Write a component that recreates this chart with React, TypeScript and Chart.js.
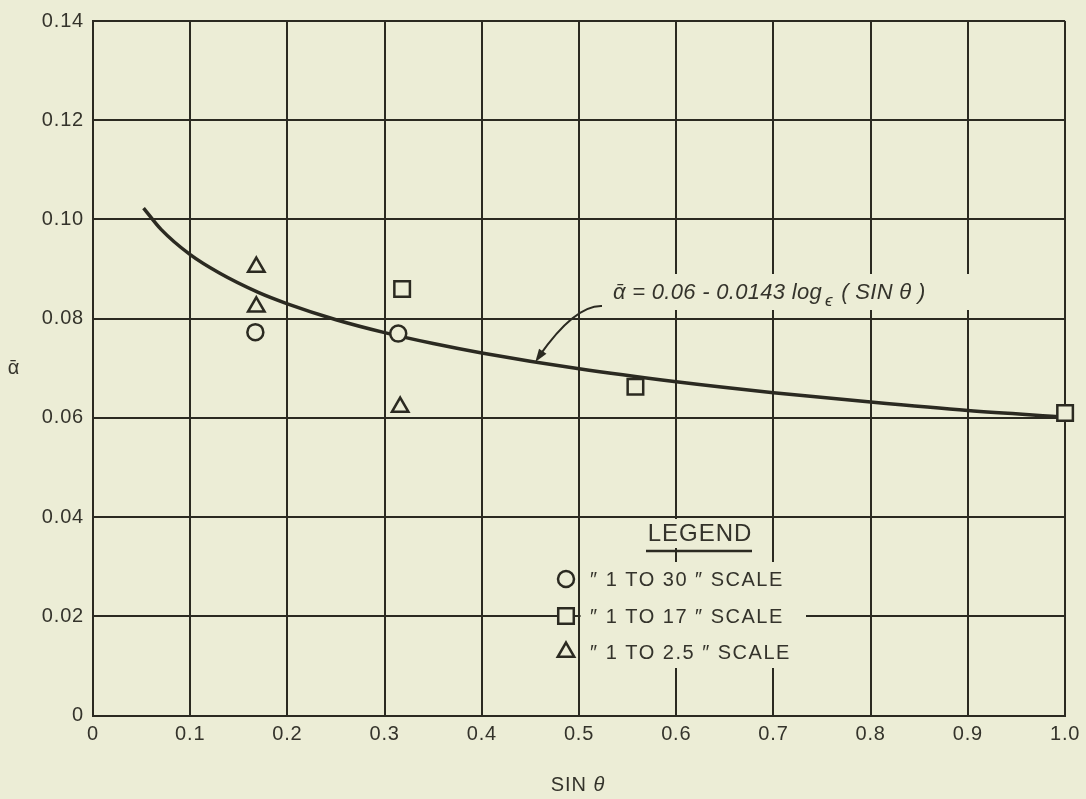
import React, { useEffect, useRef } from 'react';
import { Chart, registerables } from 'chart.js';

Chart.register(...registerables);

const BG = '#ecedd6';
const INK = '#2b2a21';
const TEXT = '#34332b';
const FONT = "'Liberation Sans', 'DejaVu Sans', Arial, sans-serif";

// Fitted curve  ᾱ = 0.06 - 0.0143 ln(sin θ)
const curveX = [0.052, 0.07, 0.1, 0.13, 0.17, 0.2, 0.25, 0.3, 0.35, 0.4, 0.5, 0.6, 0.7, 0.8, 0.9, 1.0];
const curveY = [0.1023, 0.098, 0.0929, 0.0892, 0.0853, 0.083, 0.0798, 0.0772, 0.075, 0.0731, 0.0699, 0.0673, 0.0651, 0.0632, 0.0615, 0.0602];

// "1 TO 30" scale (circles)
const circleX = [0.167, 0.314];
const circleY = [0.0773, 0.077];
// "1 TO 17" scale (squares)
const squareX = [0.318, 0.558, 1.0];
const squareY = [0.086, 0.0663, 0.061];
// "1 TO 2.5" scale (triangles)
const triangleX = [0.168, 0.168, 0.316];
const triangleY = [0.0904, 0.0824, 0.0622];

const xTickValues = [0, 0.1, 0.2, 0.3, 0.4, 0.5, 0.6, 0.7, 0.8, 0.9, 1.0];
const yTickValues = [0, 0.02, 0.04, 0.06, 0.08, 0.1, 0.12, 0.14];

const legendTitle = 'LEGEND';
const legendLabels = ['″ 1 TO 30 ″ SCALE', '″ 1 TO 17 ″ SCALE', '″ 1 TO 2.5 ″ SCALE'];
const legendStyles = ['circle', 'rect', 'triangle'];
const equationMain = 'ᾱ = 0.06 - 0.0143 log';
const equationSub = 'ϵ';
const equationTail = ' ( SIN θ )';
const xTitle = 'SIN ';
const xTitleSym = 'θ';
const yTitle = 'ᾱ';

const R_CIRCLE = 8;
const R_RECT = 11;
const R_TRI = 9.5;

function drawMarker(ctx: CanvasRenderingContext2D, style: string, x: number, y: number) {
  ctx.save();
  ctx.beginPath();
  if (style === 'circle') {
    ctx.arc(x, y, R_CIRCLE, 0, Math.PI * 2);
  } else if (style === 'rect') {
    const s = Math.SQRT1_2 * R_RECT;
    ctx.rect(x - s, y - s, 2 * s, 2 * s);
  } else {
    let rad = 0;
    ctx.moveTo(x + Math.sin(rad) * R_TRI, y - Math.cos(rad) * R_TRI);
    rad += (2 * Math.PI) / 3;
    ctx.lineTo(x + Math.sin(rad) * R_TRI, y - Math.cos(rad) * R_TRI);
    rad += (2 * Math.PI) / 3;
    ctx.lineTo(x + Math.sin(rad) * R_TRI, y - Math.cos(rad) * R_TRI);
    ctx.closePath();
  }
  ctx.fillStyle = BG;
  ctx.fill();
  ctx.lineWidth = 2.5;
  ctx.strokeStyle = INK;
  ctx.stroke();
  ctx.restore();
}

export default function App() {
  const ref = useRef<HTMLCanvasElement>(null);

  useEffect(() => {
    const canvas = ref.current!;

    const decor = {
      id: 'decor',
      beforeDraw(chart: any) {
        const { ctx, width, height } = chart;
        ctx.save();
        ctx.fillStyle = BG;
        ctx.fillRect(0, 0, width, height);
        ctx.restore();
        ctx.letterSpacing = '0.8px';
      },
      beforeDatasetsDraw(chart: any) {
        const ctx = chart.ctx as CanvasRenderingContext2D;
        const xs = chart.scales.x;
        ctx.save();
        ctx.letterSpacing = '0px';
        ctx.fillStyle = BG;
        // label box behind the equation
        ctx.fillRect(608, 274, 382, 36);
        // legend boxes
        const lx = xs.getPixelForValue(0.5) + 1.5;
        ctx.fillRect(644, 519, 112, 29);
        ctx.fillRect(lx, 562, 806 - lx, 106);
        ctx.restore();
      },
      afterDatasetsDraw(chart: any) {
        const ctx = chart.ctx as CanvasRenderingContext2D;
        const xs = chart.scales.x;
        const ys = chart.scales.y;
        ctx.save();
        ctx.fillStyle = TEXT;
        ctx.strokeStyle = INK;

        // equation
        ctx.letterSpacing = '0.3px';
        ctx.textBaseline = 'alphabetic';
        ctx.textAlign = 'left';
        ctx.font = `italic 22px ${FONT}`;
        let ex = 613;
        const ey = 299;
        ctx.fillText(equationMain, ex, ey);
        ex += ctx.measureText(equationMain).width + 3;
        ctx.font = `italic 17px ${FONT}`;
        ctx.fillText(equationSub, ex, ey + 7);
        ex += ctx.measureText(equationSub).width + 2;
        ctx.font = `italic 22px ${FONT}`;
        ctx.fillText(equationTail, ex, ey);

        // arrow to the curve
        const tx = xs.getPixelForValue(0.455);
        const ty = ys.getPixelForValue(0.0713);
        const sx = 602, sy = 306;
        const cx = 575, cy = 305;
        ctx.lineWidth = 2;
        ctx.beginPath();
        ctx.moveTo(sx, sy);
        ctx.quadraticCurveTo(cx, cy, tx + 4, ty - 6);
        ctx.stroke();
        const ang = Math.atan2(ty - cy, tx - cx);
        const L = 13, W = 4.5;
        ctx.beginPath();
        ctx.moveTo(tx, ty);
        ctx.lineTo(tx - L * Math.cos(ang) + W * Math.sin(ang), ty - L * Math.sin(ang) - W * Math.cos(ang));
        ctx.lineTo(tx - L * Math.cos(ang) - W * Math.sin(ang), ty - L * Math.sin(ang) + W * Math.cos(ang));
        ctx.closePath();
        ctx.fillStyle = INK;
        ctx.fill();

        // legend
        ctx.fillStyle = TEXT;
        ctx.font = `24px ${FONT}`;
        ctx.letterSpacing = '1px';
        ctx.textAlign = 'center';
        ctx.textBaseline = 'middle';
        ctx.fillText(legendTitle, 700, 534);
        ctx.lineWidth = 2.5;
        ctx.beginPath();
        ctx.moveTo(646, 551);
        ctx.lineTo(752, 551);
        ctx.stroke();

        ctx.font = `20px ${FONT}`;
        ctx.letterSpacing = '1.5px';
        ctx.textAlign = 'left';
        const rows = [579, 616, 652];
        legendLabels.forEach((lab, i) => {
          drawMarker(ctx, legendStyles[i], 566, rows[i]);
          ctx.fillStyle = TEXT;
          ctx.fillText(lab, 590, rows[i] + 1);
        });

        // axis titles
        ctx.letterSpacing = '1px';
        ctx.font = `20px ${FONT}`;
        ctx.textAlign = 'left';
        const w1 = ctx.measureText(xTitle).width;
        ctx.font = `italic 20px ${FONT}`;
        const w2 = ctx.measureText(xTitleSym).width;
        let px = 578 - (w1 + w2) / 2;
        ctx.font = `20px ${FONT}`;
        ctx.fillText(xTitle, px, 785);
        ctx.font = `italic 20px ${FONT}`;
        ctx.fillText(xTitleSym, px + w1, 785);

        ctx.font = `20px ${FONT}`;
        ctx.textAlign = 'center';
        ctx.fillText(yTitle, 14, 368);
        ctx.restore();
      },
      afterDraw(chart: any) {
        chart.ctx.letterSpacing = '0px';
      },
    };

    const pts = (xs: number[], ys: number[]) => xs.map((x, i) => ({ x, y: ys[i] }));

    const markerDs = (data: any[], style: string, r: number, label: string) => ({
      label,
      data,
      pointStyle: style,
      pointRadius: r,
      pointHoverRadius: r,
      pointBackgroundColor: BG,
      pointBorderColor: INK,
      pointBorderWidth: 2.5,
      showLine: false,
      clip: false,
      order: 0,
    });

    const chart = new Chart(canvas, {
      type: 'scatter',
      data: {
        datasets: [
          {
            label: 'curve',
            data: pts(curveX, curveY),
            showLine: true,
            borderColor: INK,
            borderWidth: 3.5,
            pointRadius: 0,
            cubicInterpolationMode: 'monotone',
            clip: false,
            order: 10,
          } as any,
          markerDs(pts(circleX, circleY), 'circle', R_CIRCLE, legendLabels[0]),
          markerDs(pts(squareX, squareY), 'rect', R_RECT, legendLabels[1]),
          markerDs(pts(triangleX, triangleY), 'triangle', R_TRI, legendLabels[2]),
        ],
      },
      options: {
        responsive: false,
        animation: false,
        events: [],
        layout: { padding: { left: 0, right: 17, top: 13.6, bottom: 0 } },
        plugins: { legend: { display: false }, tooltip: { enabled: false } },
        scales: {
          x: {
            type: 'linear',
            min: 0,
            max: 1,
            afterBuildTicks: (s: any) => {
              s.ticks = xTickValues.map((v) => ({ value: v }));
            },
            afterFit: (s: any) => {
              s.height = 83.3;
            },
            grid: { color: INK, lineWidth: 2, drawTicks: false },
            border: { display: true, color: INK, width: 2 },
            ticks: {
              color: TEXT,
              font: { family: FONT, size: 20 },
              padding: 7,
              maxRotation: 0,
              callback: (v: any) => (Number(v) === 0 ? '0' : Number(v).toFixed(1)),
            },
          },
          y: {
            type: 'linear',
            min: 0,
            max: 0.14,
            afterBuildTicks: (s: any) => {
              s.ticks = yTickValues.map((v) => ({ value: v }));
            },
            afterFit: (s: any) => {
              s.width = 93;
            },
            grid: { color: INK, lineWidth: 2, drawTicks: false },
            border: { display: true, color: INK, width: 2 },
            ticks: {
              color: TEXT,
              font: { family: FONT, size: 20 },
              padding: 9,
              callback: (v: any) => (Number(v) === 0 ? '0' : Number(v).toFixed(2)),
            },
          },
        },
      },
      plugins: [decor],
    } as any);

    return () => chart.destroy();
  }, []);

  return (
    <div style={{ position: 'absolute', left: 0, top: 0, width: 1086, height: 799, background: BG }}>
      <canvas ref={ref} width={1086} height={799} style={{ display: 'block', width: 1086, height: 799 }} />
    </div>
  );
}
